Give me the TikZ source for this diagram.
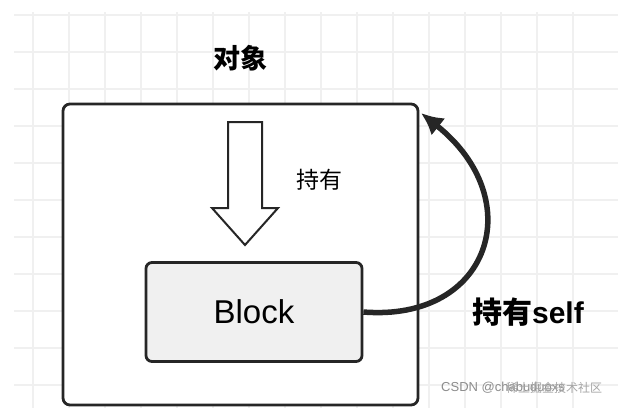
\documentclass[tikz,border=0pt]{standalone}
\usepackage{fontspec}
\setmainfont{Liberation Sans}
\newfontfamily\cjk{Noto Sans CJK SC}
\usetikzlibrary{arrows.meta}
\begin{document}
\begin{tikzpicture}[x=1pt,y=-1pt,
  gridline/.style={draw=black!6,line width=1.2pt},
  boxline/.style={draw=black!85,line width=2.8pt,rounded corners=7pt},
  plain/.style={inner sep=0pt}]
\useasboundingbox (0,0) rectangle (618,408);
\fill[white] (0,0) rectangle (618,408);
\foreach \x in {33,69,...,600} \draw[gridline] (\x,12) -- (\x,408);
\foreach \y in {15,52,...,408} \draw[gridline] (14,\y) -- (618,\y);
\node[plain,font=\cjk\bfseries\fontsize{27}{29}\selectfont] (title) at (240,58) {对象};
\draw[boxline,fill=white] (63,104) rectangle (418,405);
\coordinate (outerTR) at (421,113);
\draw[draw=black!85,line width=2pt,fill=white,line join=miter]
  (228,122) -- (262,122) -- (262,208) -- (278,208) -- (245,245) -- (212,208) -- (228,208) -- cycle;
\node[plain,font=\cjk\fontsize{23}{25}\selectfont] (hold) at (319,180) {持有};
\node[boxline,fill=black!6,minimum width=216pt,minimum height=99pt,rounded corners=6pt,
  font=\fontsize{33}{35}\selectfont] (block) at (254,312) {Block};
\draw[draw=black!85,line width=5.5pt,-{Latex[length=22pt,width=22pt]}]
  (block.east) .. controls (490,322) and (530,200) .. (outerTR);
\node[plain,font=\cjk\bfseries\fontsize{30}{32}\selectfont] (holdself) at (528,312) {持有\textrm{\bfseries self}};
\node[plain,text=black!45,font=\fontsize{13}{14}\selectfont,anchor=west] (wm) at (441,388) {CSDN @chabuduoxs};
\node[plain,text=black!35,font=\cjk\fontsize{12}{13}\selectfont,anchor=west] (wm2) at (506,388) {稀土掘金技术社区};
\end{tikzpicture}
\end{document}
